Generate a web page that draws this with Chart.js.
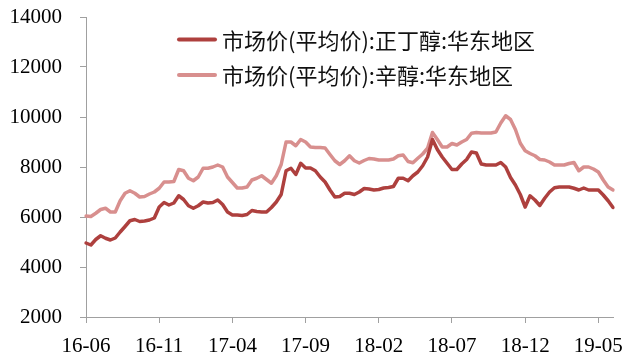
<!DOCTYPE html>
<html>
<head>
<meta charset="utf-8">
<script src="https://cdn.jsdelivr.net/npm/chart.js@4/dist/chart.umd.min.js"></script>
<style>
  html, body { margin: 0; padding: 0; background: #ffffff; }
  #wrap { width: 628px; height: 358px; position: relative; }
</style>
</head>
<body>
<div id="wrap"><canvas id="c" width="628" height="358"></canvas></div>
<script>
// Series names
const seriesNames = ['市场价(平均价):正丁醇:华东地区', '市场价(平均价):辛醇:华东地区'];

// Dates sampled three times a month (1st, 11th, 21st), June 2016 onwards
const categories = [];
for (let y = 2016, m = 6; categories.length < 109; ) {
  const mm = String(m).padStart(2, '0');
  for (const d of ['01', '11', '21']) {
    if (categories.length < 109) categories.push(y + '-' + mm + '-' + d);
  }
  m++; if (m > 12) { m = 1; y++; }
}

// Axis tick labels shown along the bottom
const tickLabels = ['16-06', '16-11', '17-04', '17-09', '18-02', '18-07', '18-12', '19-05'];
const yTicks = [2000, 4000, 6000, 8000, 10000, 12000, 14000];

// 正丁醇 price, yuan/ton
const butanol = [
  4960, 4880, 5100, 5250, 5150, 5080, 5160, 5400, 5620, 5850,
  5900, 5820, 5840, 5880, 5960, 6400, 6580, 6480, 6560, 6850,
  6700, 6450, 6350, 6450, 6600, 6560, 6580, 6680, 6500, 6200,
  6080, 6080, 6060, 6100, 6260, 6220, 6200, 6200, 6380, 6600,
  6900, 7850, 7950, 7700, 8150, 7960, 7960, 7850, 7600, 7400,
  7080, 6800, 6820, 6950, 6950, 6900, 7000, 7140, 7120, 7080,
  7100, 7160, 7180, 7220, 7550, 7550, 7450, 7650, 7800, 8050,
  8400, 9100, 8700, 8400, 8150, 7900, 7900, 8120, 8300, 8600,
  8560, 8120, 8080, 8080, 8080, 8180, 8000, 7580, 7280, 6900,
  6400, 6850, 6680, 6460, 6750, 7000, 7170, 7200, 7200, 7200,
  7150, 7080, 7160, 7080, 7080, 7080, 6880, 6650, 6380
];

// 辛醇 price, yuan/ton
const octanol = [
  6040, 6020, 6150, 6300, 6350, 6200, 6200, 6650, 6950, 7050,
  6950, 6800, 6820, 6920, 7000, 7150, 7400, 7400, 7420, 7900,
  7850, 7550, 7450, 7600, 7950, 7950, 8000, 8080, 8000, 7600,
  7380, 7160, 7160, 7200, 7480, 7550, 7650, 7500, 7350, 7650,
  8100, 9000, 9000, 8850, 9100, 9000, 8800, 8780, 8780, 8760,
  8500, 8250, 8100, 8250, 8450, 8250, 8160, 8260, 8340, 8320,
  8280, 8280, 8280, 8320, 8450, 8480, 8220, 8170, 8350, 8520,
  8750, 9380, 9100, 8800, 8800, 8940, 8880, 9000, 9100, 9350,
  9380, 9360, 9360, 9360, 9400, 9760, 10050, 9900, 9500, 8950,
  8650, 8540, 8450, 8300, 8280, 8200, 8080, 8080, 8080, 8140,
  8180, 7850, 8000, 8000, 7920, 7800, 7480, 7200, 7080
];

const colors = ['#AE403E', '#D88F8E'];
const axisColor = '#A0A0A0';
const serif = "'Liberation Serif', 'Times New Roman', serif";

// Legend drawn inside the plot area, two stacked rows
const insideLegend = {
  id: 'insideLegend',
  afterDraw(chart) {
    const ctx = chart.ctx;
    const x0 = 179, x1 = 215, textX = 222;
    const rows = [39.5, 75];
    ctx.save();
    chart.data.datasets.forEach((ds, i) => {
      const y = rows[i];
      ctx.strokeStyle = ds.borderColor;
      ctx.lineWidth = 4;
      ctx.lineCap = 'round';
      ctx.beginPath();
      ctx.moveTo(x0, y);
      ctx.lineTo(x1, y);
      ctx.stroke();
      ctx.fillStyle = '#111111';
      ctx.font = "22px 'Noto Sans CJK SC', sans-serif";
      ctx.textBaseline = 'middle';
      ctx.textAlign = 'left';
      ctx.fillText(ds.label, textX, y + 1);
    });
    ctx.restore();
  }
};

new Chart(document.getElementById('c'), {
  type: 'line',
  data: {
    labels: categories,
    datasets: [
      { label: seriesNames[0], data: butanol, borderColor: colors[0], backgroundColor: colors[0] },
      { label: seriesNames[1], data: octanol, borderColor: colors[1], backgroundColor: colors[1] }
    ]
  },
  options: {
    responsive: false,
    animation: false,
    devicePixelRatio: 1,
    layout: { padding: { top: 17, right: 15, left: 0, bottom: 0 } },
    elements: {
      line: { borderWidth: 3.5, tension: 0, borderJoinStyle: 'round', borderCapStyle: 'round' },
      point: { radius: 0, hoverRadius: 0 }
    },
    plugins: {
      legend: { display: false },
      tooltip: { enabled: false }
    },
    scales: {
      x: {
        type: 'category',
        offset: false,
        border: { display: true, color: axisColor, width: 1 },
        grid: { drawOnChartArea: false, drawTicks: true, tickLength: 6, color: axisColor },
        ticks: {
          autoSkip: false,
          maxRotation: 0,
          minRotation: 0,
          padding: 11,
          color: '#000000',
          font: { family: serif, size: 21 },
          callback: function (value, index) {
            const c = categories[index];
            if (c && c.endsWith('-01')) {
              const k = c.slice(2, 7);
              if (tickLabels.includes(k)) return k;
            }
            return null;
          }
        },
        afterFit: function (scale) {
          scale.height = 41;
          scale.paddingLeft = 0;
          scale.paddingRight = 0;
        }
      },
      y: {
        min: 2000,
        max: 14000,
        border: { display: true, color: axisColor, width: 1 },
        grid: { drawOnChartArea: false, drawTicks: true, tickLength: 6, color: axisColor },
        afterBuildTicks: function (scale) { scale.ticks = yTicks.map(v => ({ value: v })); },
        ticks: {
          padding: 18,
          color: '#000000',
          font: { family: serif, size: 21 },
          callback: v => String(v)
        },
        afterFit: function (scale) {
          scale.width = 86;
          scale.paddingTop = 0;
          scale.paddingBottom = 0;
        }
      }
    }
  },
  plugins: [insideLegend]
});
</script>
</body>
</html>
